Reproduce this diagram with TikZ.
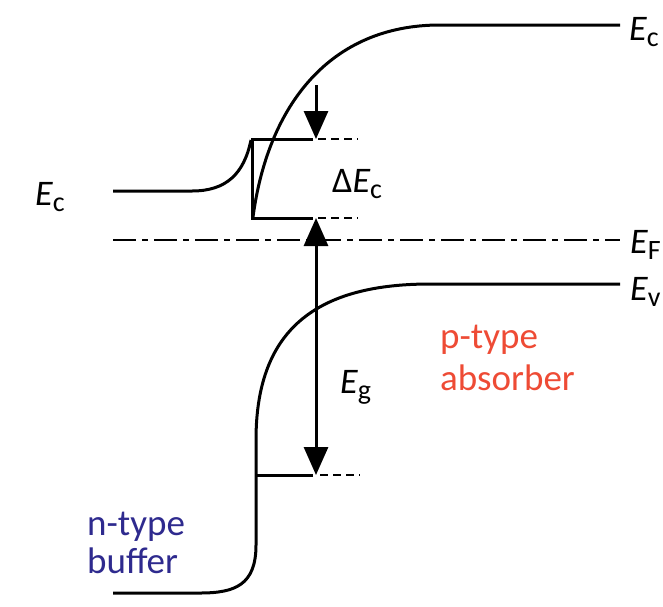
\documentclass[tikz,border=0pt]{standalone}
\usepackage{fontspec}
\setmainfont{Carlito}
\usetikzlibrary{arrows.meta}
\definecolor{absorbercol}{HTML}{EE4B35}
\definecolor{buffercol}{HTML}{2E2A8E}
\newcommand{\enlbl}[2]{{\itshape #1}\raisebox{-6pt}{\fontsize{28}{28}\selectfont #2}}
\begin{document}
\begin{tikzpicture}[x=1pt,y=-1pt,
  band/.style={line width=3pt, line join=miter},
  ext/.style={line width=2.3pt, dash pattern=on 8pt off 5pt},
  fermi/.style={line width=2.7pt, dash pattern=on 23pt off 6pt on 6pt off 6pt},
  arr/.style={line width=3pt, -{Triangle[length=28pt,width=24pt]}},
  arrtwo/.style={line width=3pt, {Triangle[length=28pt,width=24pt]}-{Triangle[length=28pt,width=24pt]}},
  lbl/.style={font=\fontsize{36}{40}\selectfont, inner sep=0pt, anchor=base west},
  region/.style={font=\fontsize{37}{40}\selectfont, inner sep=0pt, anchor=base west}]
\useasboundingbox (0,0) rectangle (663,606);
\clip (0,0) rectangle (663,606);
% buffer conduction band
\draw[band] (113,191) -- (192,191) .. controls (226,191) and (244,174) .. (251,140);
\draw[band] (313,139) -- (252,139) -- (252,218) -- (313,218);
% absorber conduction band
\draw[band] (253,217) .. controls (268,105) and (330,25) .. (440,25) -- (620,25);
% valence band
\draw[band] (113,593) -- (200,593) .. controls (235,593) and (256,585) .. (256,545) -- (256,440) .. controls (256,335) and (310,284) .. (430,284) -- (620,284);
\draw[band] (256,475) -- (313,475);
% dashed extensions
\draw[ext] (318,139) -- (358,139);
\draw[ext] (318,218) -- (358,218);
\draw[ext] (320,475) -- (360,475);
% Fermi level
\draw[fermi] (113,240) -- (620,240);
% arrows
\coordinate (dctop) at (316,85);
\coordinate (dcbot) at (316,139);
\draw[arr] (dctop) -- (dcbot);
\coordinate (egtop) at (316,218);
\coordinate (egbot) at (316,475);
\draw[arrtwo] (egtop) -- (egbot);
% labels
\node[lbl] (ecleft) at (35,205) {\enlbl{E}{c}};
\node[lbl] (ecright) at (629,40) {\enlbl{E}{c}};
\node[lbl] (ef) at (630,253) {\enlbl{E}{F}};
\node[lbl] (ev) at (630,300) {\enlbl{E}{v}};
\node[lbl] (dec) at (332,192) {Δ\enlbl{E}{c}};
\node[lbl] (eg) at (340,393) {\enlbl{E}{g}};
\node[region, text=absorbercol] (ptype) at (440,348) {p-type};
\node[region, text=absorbercol] (absorber) at (440,390) {absorber};
\node[region, text=buffercol] (ntype) at (87,535) {n-type};
\node[region, text=buffercol] (buffer) at (87,573) {buffer};
\end{tikzpicture}
\end{document}
